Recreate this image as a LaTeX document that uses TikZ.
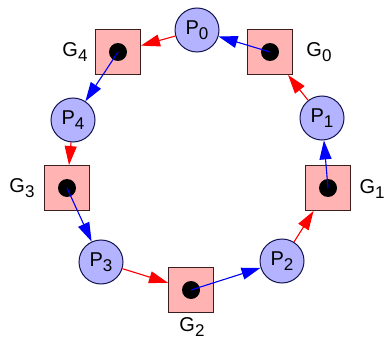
\documentclass[tikz,border=0pt]{standalone}
\usepackage{fontspec}
\setmainfont{Liberation Sans}
\usetikzlibrary{arrows.meta,positioning,calc}
\definecolor{PlaceFill}{RGB}{179,179,255}
\definecolor{PlaceLine}{RGB}{20,20,80}
\definecolor{GateFill}{RGB}{255,179,179}
\definecolor{GateLine}{RGB}{60,30,30}
\newcommand{\idxname}[2]{#1\raisebox{-0.42ex}{\fontsize{17}{17}\selectfont #2}}

\begin{document}
\begin{tikzpicture}[x=1pt,y=-1pt,
 place/.style={circle,draw=PlaceLine,fill=PlaceFill,line width=1pt,
 minimum size=44pt,inner sep=0pt,font=\fontsize{20}{24}\selectfont},
 gate/.style={rectangle,draw=GateLine,fill=GateFill,line width=0.9pt,
 minimum size=45pt,inner sep=0pt},
 token/.style={circle,fill=black,minimum size=18pt,inner sep=0pt},
 glabel/.style={inner sep=0pt,font=\fontsize{20}{24}\selectfont},
 ptog/.style={draw=red,line width=1.1pt,-{Triangle[length=19pt,width=12pt]},fill=red},
 gtop/.style={draw=blue,line width=1.1pt,-{Triangle[length=19pt,width=12pt]},fill=blue}]
\useasboundingbox (0,0) rectangle (385,342);
% places
\node[place] (p0) at (197,30) {\idxname{P}{0}};
\node[place] (p1) at (322,118) {\idxname{P}{1}};
\node[place] (p2) at (282,261) {\idxname{P}{2}};
\node[place] (p3) at (101,262) {\idxname{P}{3}};
\node[place] (p4) at (73,120) {\idxname{P}{4}};
% gates with tokens
\foreach \g/\x/\y in {0/270/52,1/328/188,2/191/290,3/67/188,4/118/52} {
 \node[gate] (g\g) at (\x,\y) {};
 \node[token] (t\g) at (g\g.center) {};
}
% gate names
\node[glabel] (g0l) at (319,52) {\idxname{G}{0}};
\node[glabel] (g1l) at (372,189) {\idxname{G}{1}};
\node[glabel] (g2l) at (192,327) {\idxname{G}{2}};
\node[glabel] (g3l) at (22,188) {\idxname{G}{3}};
\node[glabel] (g4l) at (75,52) {\idxname{G}{4}};
% place -> gate
\draw[ptog] (p0) -- (g4);
\draw[ptog] (p1) -- (g0);
\draw[ptog] (p2) -- (g1);
\draw[ptog] (p3) -- (g2);
\draw[ptog] (p4) -- (g3);
% gate -> place
\draw[gtop] (t0.center) -- (p0);
\draw[gtop] (t1.center) -- (p1);
\draw[gtop] (t2.center) -- (p2);
\draw[gtop] (t3.center) -- (p3);
\draw[gtop] (t4.center) -- (p4);
\end{tikzpicture}
\end{document}
